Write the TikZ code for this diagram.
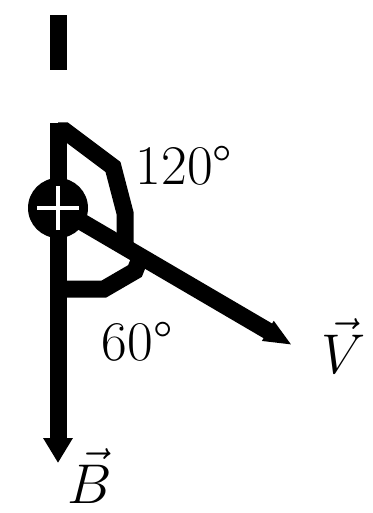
\documentclass[tikz,border=0pt]{standalone}
\usepackage{fix-cm}
\usepackage{fontspec}
\usepackage{tikz}
\usetikzlibrary{positioning, arrows.meta}
\tikzstyle{thick line}=[line width=17pt]
\tikzstyle{charge}=[circle, fill=black, inner sep=0pt, minimum size=60pt]
\tikzstyle{every node}=[font=\fontsize{56}{64}\selectfont, inner sep=1pt]

\begin{document}
\begin{tikzpicture}[x=1pt, y=-1pt]
            \useasboundingbox (0,0) rectangle (372,513);
            \coordinate (top) at (58,123);
            \coordinate (O) at (58,208);
            \coordinate (Btip) at (58,463);
            \coordinate (Vtip) at (292,345);
            \fill (50,15) rectangle (67,70);
            \draw[thick line, -{Triangle[width=28pt,length=25pt]}] (top) -- (Btip);
            \draw[thick line, -{Triangle[width=21pt,length=28pt]}] (O) -- (Vtip);
            \draw[thick line] (58,131) -- (65,131) -- (113,167) -- (125,213) -- (125,247);
            \draw[thick line] (58,289) -- (104,289) -- (135,271) -- (141,256);
            \node[charge] (q) at (O) {};
            \draw[white, line width=4pt] ([xshift=-21pt]q.center) -- ([xshift=21pt]q.center);
            \draw[white, line width=4pt] ([yshift=-22pt]q.center) -- ([yshift=22pt]q.center);
            \node (a1) at (184,166) {120°};
            \node (a2) at (137,342) {60°};
            \node (V) at (344,346) {$\vec{V}$};
            \node (B) at (90,476) {$\vec{B}$};
        \end{tikzpicture}
\end{document}
